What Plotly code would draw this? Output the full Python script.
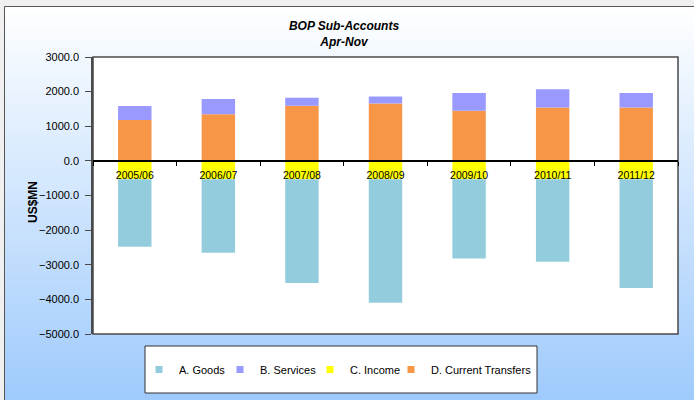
import plotly.graph_objects as go

# ---- data (US$MN, Apr-Nov) ----
categories = ["2005/06", "2006/07", "2007/08", "2008/09", "2009/10", "2010/11", "2011/12"]
goods = [-1950, -2125, -2995, -3570, -2290, -2385, -3140]
services = [405, 435, 235, 200, 510, 520, 415]
income = [-530, -530, -530, -530, -530, -530, -530]
current_transfers = [1180, 1350, 1590, 1660, 1450, 1545, 1545]
y_ticks = [-5000, -4000, -3000, -2000, -1000, 0, 1000, 2000, 3000]

series_names = ["A. Goods", "B. Services", "C. Income", "D. Current Transfers"]
colors = {"A. Goods": "#93CDDD", "B. Services": "#9999FF",
          "C. Income": "#FFFF00", "D. Current Transfers": "#F79646"}
legend_widths = {"A. Goods": 36, "B. Services": 45,
                 "C. Income": 36, "D. Current Transfers": 100}

W, H = 694, 400
ML, MR, MT, MB = 93, 16, 57, 66
PW, PH = W - ML - MR, H - MT - MB


def X(px):
    return (px - ML) / PW


def Y(py):
    return (H - MB - py) / PH


FONT = "Liberation Sans, Arial, sans-serif"

fig = go.Figure()
# stacking order: income / transfers nearest zero, goods / services outside
for name, vals in [("C. Income", income), ("D. Current Transfers", current_transfers),
                   ("A. Goods", goods), ("B. Services", services)]:
    fig.add_trace(go.Bar(x=categories, y=vals, name=name, marker_color=colors[name],
                         marker_line_width=0, showlegend=False))

# legend entries (small square keys)
for i, name in enumerate(series_names):
    fig.add_trace(go.Scatter(x=[None], y=[None], mode="markers", name=name,
                             marker=dict(symbol="square", size=7, color=colors[name]),
                             legendrank=i + 1, legendwidth=legend_widths[name]))

# background gradient (white -> light blue) and frames
shapes = []
top_c = (255, 255, 255)
bot_c = (158, 202, 252)
y_start, y_end = 6, 402
n = 60
for i in range(n):
    t = (i + 0.5) / n
    c = tuple(int(round(top_c[k] + (bot_c[k] - top_c[k]) * t)) for k in range(3))
    p0 = y_start + (y_end - y_start) * i / n
    p1 = y_start + (y_end - y_start) * (i + 1) / n + 0.6
    shapes.append(dict(type="rect", xref="paper", yref="paper", layer="below",
                       x0=X(4.5), x1=X(W + 2), y0=Y(p1), y1=Y(p0),
                       fillcolor="rgb(%d,%d,%d)" % c, line_width=0))
# outer frame
shapes.append(dict(type="rect", xref="paper", yref="paper", layer="below",
                   x0=X(4.5), x1=X(W + 5), y0=Y(H + 5), y1=Y(6.5),
                   fillcolor="rgba(0,0,0,0)", line=dict(color="#555555", width=1)))
# plot area
shapes.append(dict(type="rect", xref="x domain", yref="y domain", layer="below",
                   x0=0, x1=1, y0=0, y1=1, fillcolor="white",
                   line=dict(color="#4a4a4a", width=1.5)))
# legend box
shapes.append(dict(type="rect", xref="paper", yref="paper", layer="below",
                   x0=X(145), x1=X(537), y0=Y(393), y1=Y(346), fillcolor="white",
                   line=dict(color="#333333", width=1)))

fig.update_layout(
    width=W, height=H,
    margin=dict(l=ML, r=MR, t=MT, b=MB),
    paper_bgcolor="#f0f0f0",
    plot_bgcolor="white",
    barmode="relative",
    bargap=0.6,
    font=dict(family=FONT, size=11, color="black"),
    title=dict(text="<b><i>BOP Sub-Accounts</i></b><br><b><i>Apr-Nov</i></b>",
               x=344 / W, xref="container", xanchor="center",
               y=1 - 30 / H, yref="container", yanchor="top",
               font=dict(family=FONT, size=12, color="black")),
    shapes=shapes,
    annotations=[dict(text="<b>US$MN</b>", textangle=-90, xref="paper", yref="paper",
                      x=X(33), y=Y(202), xanchor="center", yanchor="middle",
                      showarrow=False, font=dict(family=FONT, size=12, color="black"))],
    legend=dict(orientation="h", x=X(139), xanchor="left", y=Y(369.5), yanchor="middle",
                bgcolor="rgba(0,0,0,0)", borderwidth=0,
                font=dict(family=FONT, size=11, color="black")),
    xaxis=dict(type="category", anchor="free", position=5 / 8,
               showline=True, linecolor="black", linewidth=2,
               ticks="outside", tickson="boundaries", ticklen=4, tickcolor="black",
               ticklabelstandoff=5,
               tickfont=dict(family=FONT, size=10.5, color="black"),
               showgrid=False, zeroline=False),
    yaxis=dict(range=[-5000, 3000], tickvals=y_ticks, tickformat=".1f",
               showline=True, linecolor="#4a4a4a", linewidth=1.5,
               ticks="outside", ticklen=6, tickcolor="#4a4a4a",
               ticklabelstandoff=4,
               tickfont=dict(family=FONT, size=11, color="black"),
               showgrid=False, zeroline=False),
)

fig.write_html("out.html", config={"displayModeBar": False},
               post_script="document.body.style.margin='0px';")
